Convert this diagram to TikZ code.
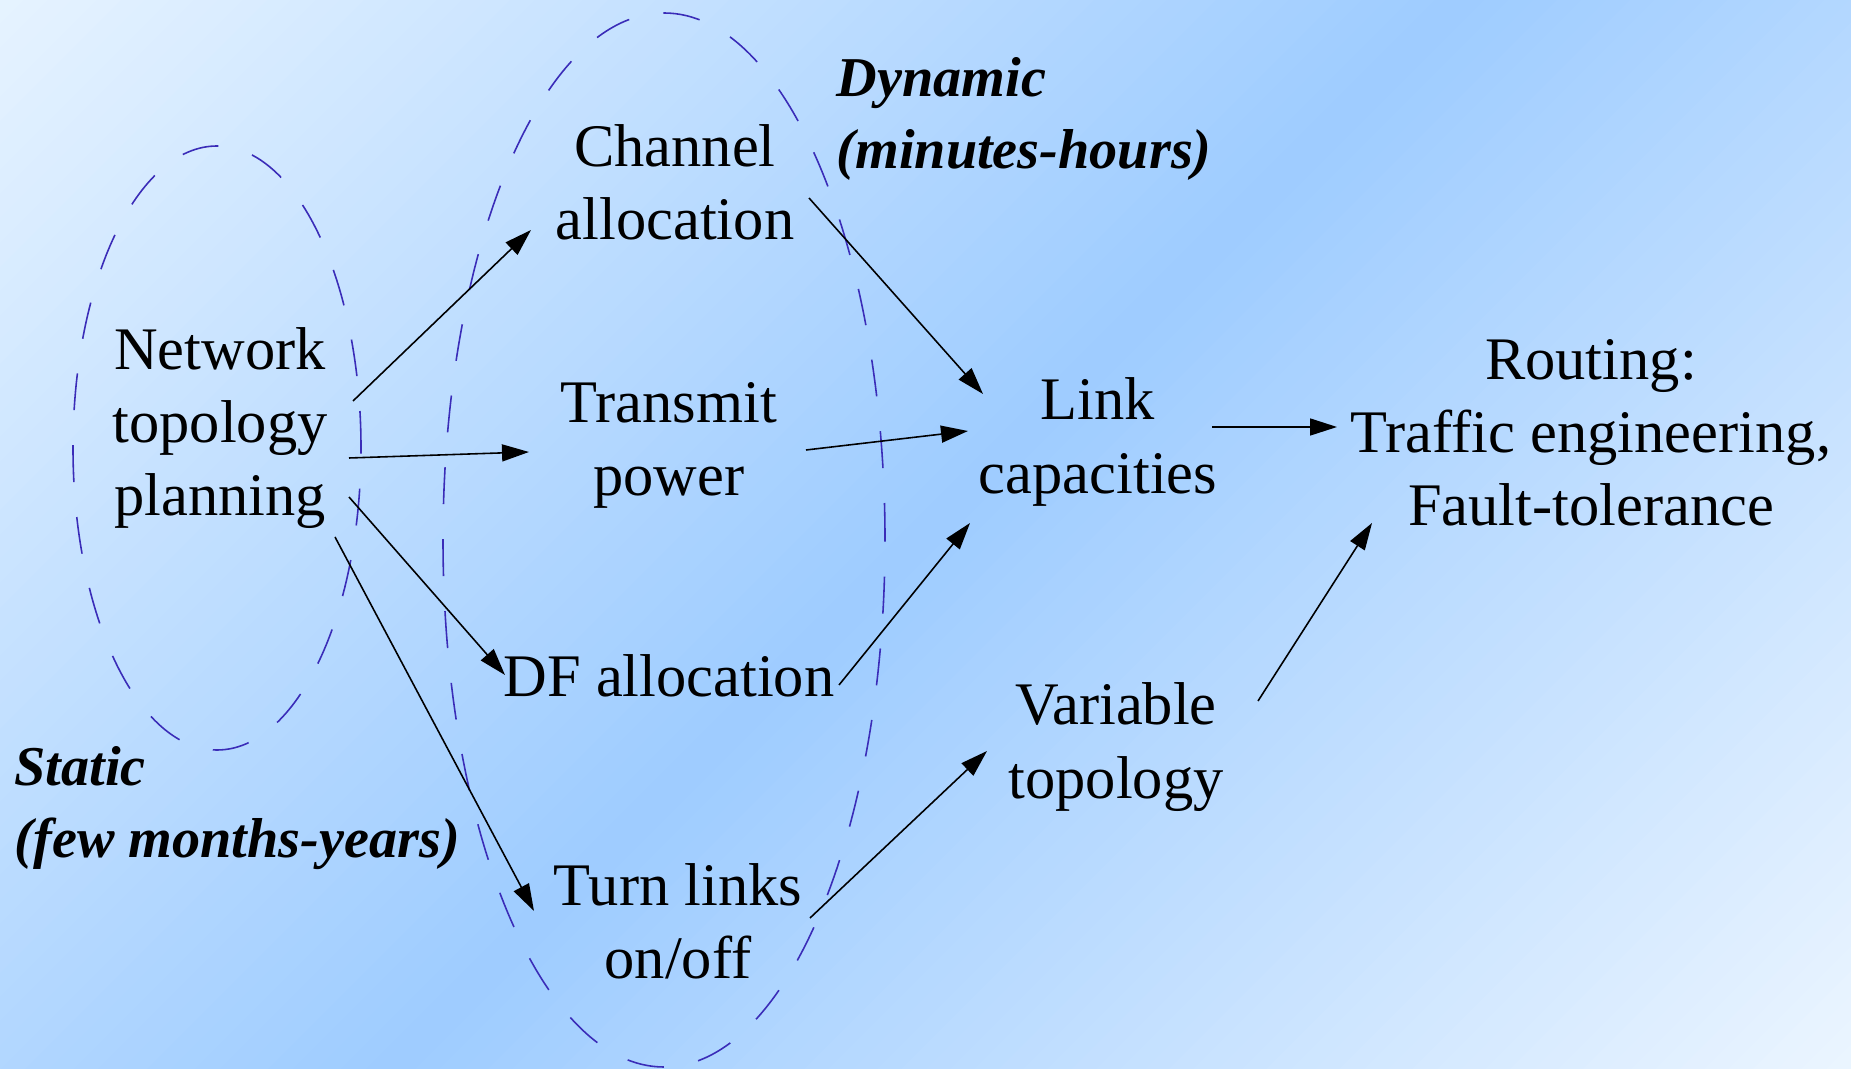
\documentclass[tikz,border=0pt]{standalone}
\usepackage{fontspec}
\setmainfont{Liberation Serif}
\usetikzlibrary{arrows.meta,calc,shapes.geometric}
\definecolor{bgtl}{HTML}{E6F3FF}
\definecolor{bgbr}{HTML}{EBF5FF}
\definecolor{bgmid}{HTML}{9ECCFF}
\definecolor{dashblue}{HTML}{3A2CB8}
\begin{document}
\begin{tikzpicture}[
  lbl/.style={inner sep=0pt, align=center, font=\fontsize{17.2}{20.8}\selectfont},
  tlabel/.style={inner sep=0pt, align=left, anchor=west, font=\fontsize{16}{20.6}\selectfont\bfseries\itshape},
  grp/.style={ellipse, draw=dashblue, line width=0.45pt, dash pattern=on 3.7mm off 3.5mm, inner sep=0pt},
  arr/.style={-{Triangle[length=2.7mm,width=1.7mm]}, line width=0.45pt, draw=black}
]
\useasboundingbox (0,0) rectangle (18.51,10.68);
% diagonal background gradient, drawn as thin strips
\begin{scope}
\clip (0,0) rectangle (18.51,10.68);
\foreach \i in {0,...,59}{
  \pgfmathsetmacro\sstart{-10.68+\i*0.24325}
  \pgfmathsetmacro\pct{(\i+0.5)/60*100}
  \fill[bgmid!\pct!bgtl] (\sstart-1,-1) -- (\sstart+12,12) -- (\sstart+12.26,12) -- (\sstart-0.74,-1) -- cycle;
}
\foreach \i in {60,...,119}{
  \pgfmathsetmacro\sstart{-10.68+\i*0.24325}
  \pgfmathsetmacro\pct{(120-\i-0.5)/60*100}
  \fill[bgmid!\pct!bgbr] (\sstart-1,-1) -- (\sstart+12,12) -- (\sstart+12.26,12) -- (\sstart-0.74,-1) -- cycle;
}
\end{scope}

% groups
\node[grp, minimum width=2.88cm, minimum height=6.04cm] (staticgrp) at (2.17,6.20) {};
\node[grp, minimum width=4.42cm, minimum height=10.54cm] (dyngrp) at (6.64,5.28) {};

% labels
\node[lbl] (net) at (2.20,6.40) {Network\\topology\\planning};
\node[lbl] (chan) at (6.75,8.86) {Channel\\allocation};
\node[lbl] (tx) at (6.69,6.23) {Transmit\\power};
\node[lbl] (df) at (6.69,3.92) {DF allocation};
\node[lbl] (turn) at (6.78,1.47) {Turn links\\on/off};
\node[lbl] (link) at (10.98,6.26) {Link\\capacities};
\node[lbl] (var) at (11.16,3.21) {Variable\\topology};
\node[lbl] (route) at (15.91,6.35) {Routing:\\Traffic engineering,\\Fault-tolerance};

\node[tlabel] (dyn) at (8.36,9.49) {Dynamic\\(minutes-hours)};
\node[tlabel] (stat) at (0.14,2.60) {Static\\(few months-years)};

% connectors
\draw[arr] ($(net)+(1.33,0.27)$) -- ($(chan)+(-1.44,-0.48)$);
\draw[arr] ($(net)+(1.29,-0.30)$) -- ($(tx)+(-1.40,-0.07)$);
\draw[arr] ($(net)+(1.29,-0.69)$) -- ($(df)+(-1.64,0.01)$);
\draw[arr] ($(net)+(1.15,-1.09)$) -- ($(turn)+(-1.44,0.10)$);
\draw[arr] ($(chan)+(1.34,-0.16)$) -- ($(link)+(-1.15,0.48)$);
\draw[arr] ($(tx)+(1.37,-0.05)$) -- ($(link)+(-1.30,0.11)$);
\draw[arr] ($(df)+(1.70,-0.09)$) -- ($(link)+(-1.28,-0.81)$);
\draw[arr] ($(turn)+(1.32,0.03)$) -- ($(var)+(-1.29,-0.04)$);
\draw[arr] ($(link)+(1.14,0.15)$) -- ($(route)+(-2.54,0.06)$);
\draw[arr] ($(var)+(1.42,0.46)$) -- ($(route)+(-2.19,-0.90)$);
\end{tikzpicture}
\end{document}
